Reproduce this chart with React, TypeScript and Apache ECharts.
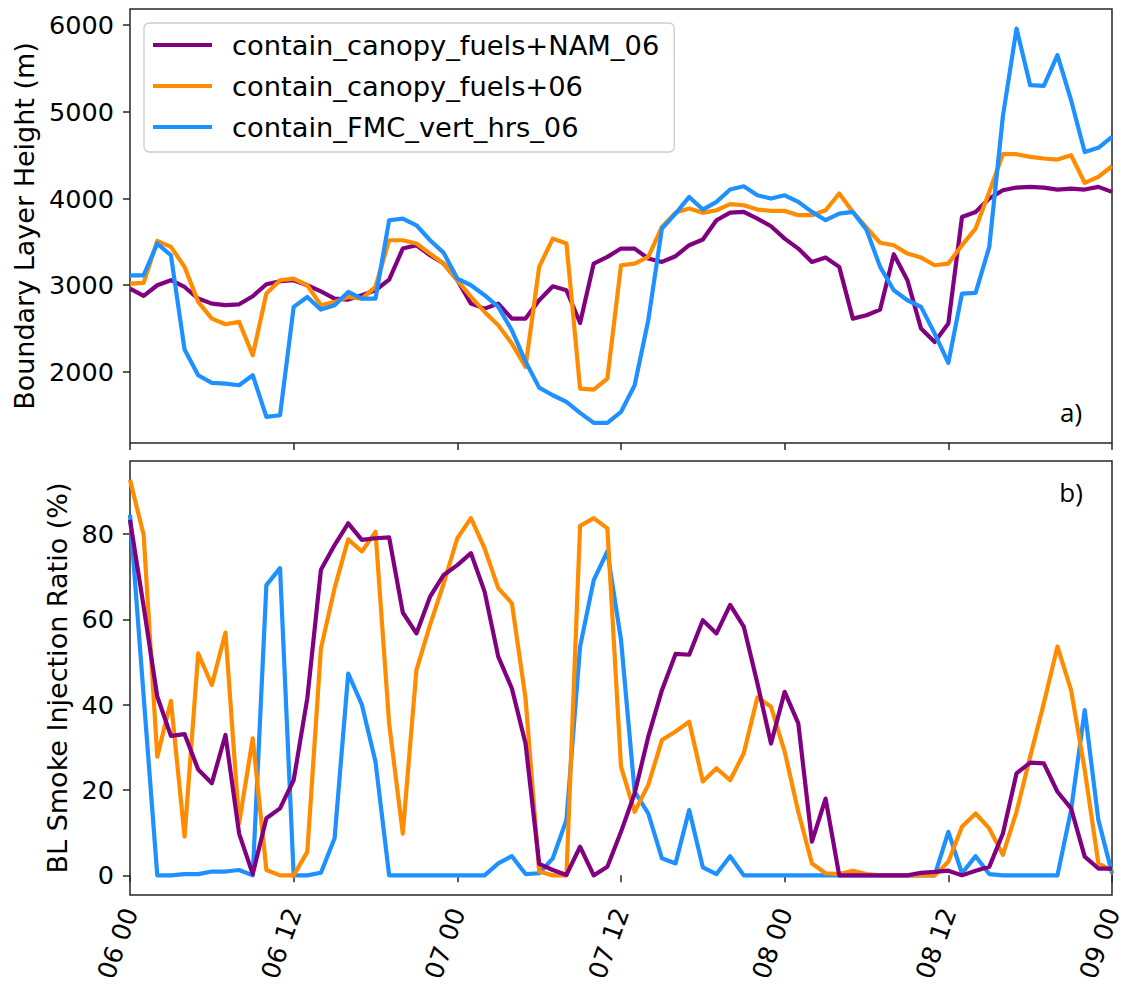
import React, { useEffect, useRef } from "react";
import * as echarts from "echarts";

// ---- Data (hourly, 06 00 -> 09 00) ----
const seriesNames = [
  "contain_canopy_fuels+NAM_06",
  "contain_canopy_fuels+06",
  "contain_FMC_vert_hrs_06",
];
const seriesColors = ["#800080", "#ff8c00", "#1e90ff"];

const xTickHours = [0, 12, 24, 36, 48, 60, 72];
const xTickLabels = ["06 00", "06 12", "07 00", "07 12", "08 00", "08 12", "09 00"];
const blhTicks = [2000, 3000, 4000, 5000, 6000];
const sirTicks = [0, 20, 40, 60, 80];

// Boundary layer height (m)
const blhNam = [
  2960, 2877, 3000, 3058, 2980, 2846, 2788, 2770, 2780, 2873,
  3011, 3046, 3058, 3000, 2930, 2846, 2835, 2885, 2942, 3065,
  3423, 3462, 3346, 3250, 3058, 2788, 2730, 2788, 2615, 2615,
  2827, 2988, 2942, 2565, 3250, 3327, 3423, 3423, 3308, 3269,
  3335, 3462, 3527, 3750, 3838, 3846, 3769, 3681, 3538, 3423,
  3269, 3319, 3212, 2615, 2654, 2719, 3358, 3058, 2500, 2346,
  2558, 3788, 3846, 4000, 4096, 4127, 4135, 4127, 4104, 4115,
  4104, 4135, 4077,
];
const blhCanopy = [
  3019, 3027, 3512, 3442, 3212, 2808, 2615, 2550, 2577, 2192,
  2904, 3058, 3077, 3000, 2770, 2808, 2865, 2846, 2981, 3519,
  3519, 3481, 3365, 3250, 3058, 2865, 2692, 2538, 2327, 2058,
  3212, 3538, 3481, 1808, 1796, 1923, 3231, 3250, 3327, 3673,
  3838, 3885, 3835, 3865, 3935, 3923, 3873, 3858, 3858, 3808,
  3808, 3865, 4058, 3846, 3665, 3490, 3462, 3365, 3319, 3231,
  3250, 3462, 3654, 4077, 4512, 4512, 4481, 4462, 4450, 4500,
  4181, 4250, 4373,
];
const blhFmc = [
  3115, 3115, 3481, 3346, 2258, 1962, 1873, 1865, 1846, 1962,
  1481, 1500, 2750, 2865, 2719, 2769, 2923, 2846, 2846, 3750,
  3769, 3692, 3519, 3373, 3077, 3000, 2885, 2750, 2480, 2120,
  1819, 1731, 1654, 1527, 1412, 1412, 1538, 1846, 2596, 3654,
  3827, 4019, 3873, 3962, 4104, 4142, 4038, 4000, 4038, 3962,
  3846, 3750, 3827, 3846, 3640, 3212, 2942, 2827, 2750, 2442,
  2104, 2904, 2911, 3442, 4950, 5962, 5308, 5300, 5654, 5135,
  4538, 4585, 4712,
];

// BL smoke injection ratio (%)
const sirNam = [
  83.3, 63, 41.9, 32.7, 33.1, 24.8, 21.6, 32.9, 9.8, 0.3,
  13.4, 15.7, 22.3, 41.5, 71.6, 77.4, 82.5, 78.6, 79, 79.2,
  61.6, 56.7, 65.3, 70.4, 72.7, 75.5, 66.5, 51.25, 43.8, 30.9,
  2.7, 1.25, 0.1, 6.7, 0, 2, 10.2, 19.2, 32.5, 43.4,
  51.9, 51.7, 59.8, 56.7, 63.4, 58.3, 45, 30.9, 43, 35.6,
  7.9, 18, 0, 0, 0, 0, 0, 0, 0.6, 0.8,
  1.1, 0, 1.1, 2, 9.8, 23.9, 26.4, 26.25, 19.6, 15.7,
  4.4, 1.6, 1.6,
];
const sirCanopy = [
  92.7, 79.8, 27.8, 40.9, 9.1, 52.0, 44.6, 56.9, 12.2, 32.1,
  1.25, 0, 0, 5.5, 53.2, 67.3, 78.75, 75.9, 80.5, 35.6,
  9.8, 48.1, 58.7, 68.4, 79, 83.7, 76.6, 67.3, 63.75, 41.5,
  0.9, 0, 0, 81.9, 83.7, 81.3, 25.5, 14.9, 21.2, 31.7,
  33.7, 36, 22, 25.1, 22.3, 28.6, 41.7, 39.5, 29, 14.9,
  2.8, 0.5, 0.3, 1.1, 0.3, 0, 0, 0, 0, 0,
  3.2, 11.4, 14.5, 11, 4.8, 14.9, 27.8, 40.3, 53.6, 43.4,
  24.7, 2.8, 1.1,
];
const sirFmc = [
  84.5, 42, 0, 0, 0.3, 0.3, 0.9, 0.9, 1.25, 0,
  68, 72, 0, 0, 0.6, 8.7, 47.3, 40, 26.6, 0,
  0, 0, 0, 0, 0, 0, 0, 2.8, 4.5, 0.3,
  0.5, 4, 13, 53.6, 69.2, 75.9, 55.2, 19.6, 14.5, 4,
  2.8, 15.3, 1.9, 0.3, 4.5, 0, 0, 0, 0, 0,
  0, 0, 0, 0, 0, 0, 0, 0, 0, 0,
  10.2, 0.5, 4.5, 0.3, 0, 0, 0, 0, 0, 15.3,
  38.75, 13, 0.5,
];

const FONT = "DejaVu Sans";
const FRAME = "#262626";

const toPairs = (vals: number[]) => vals.map((v, i) => [i, v]);

export default function App() {
  const ref = useRef<HTMLDivElement>(null);

  useEffect(() => {
    if (!ref.current) return;
    const chart = echarts.init(ref.current, null, { renderer: "svg" });

    const tickStyle = { show: true, length: 7, inside: false, lineStyle: { color: FRAME, width: 1.5 } };

    const mkLine = (name: string, idx: number, vals: number[], axis: number, z: number) => ({
      type: "line",
      name,
      xAxisIndex: axis,
      yAxisIndex: axis,
      data: toPairs(vals),
      showSymbol: false,
      symbol: "none",
      z,
      lineStyle: { color: seriesColors[idx], width: 4.2, join: "round", cap: "butt" },
      itemStyle: { color: seriesColors[idx] },
      emphasis: { disabled: true },
    });

    const plain = (v: number) => String(v);

    const option: any = {
      animation: false,
      backgroundColor: "#ffffff",
      grid: [
        { left: 130, right: 24, top: 9, height: 434, show: true, borderColor: FRAME, borderWidth: 1.5, backgroundColor: "transparent" },
        { left: 130, right: 24, top: 461, height: 434, show: true, borderColor: FRAME, borderWidth: 1.5, backgroundColor: "transparent" },
      ],
      xAxis: [
        {
          type: "value", gridIndex: 0, min: 0, max: 72,
          axisLine: { show: false },
          axisTick: { ...tickStyle, customValues: xTickHours },
          axisLabel: { show: false },
          splitLine: { show: false },
        },
        {
          type: "value", gridIndex: 1, min: 0, max: 72,
          axisLine: { show: false },
          axisTick: { ...tickStyle, customValues: xTickHours },
          axisLabel: {
            customValues: xTickHours,
            rotate: 70,
            margin: 14,
            fontSize: 25.5,
            fontFamily: FONT,
            color: "#000",
            padding: [18, 0, 0, 0],
            formatter: (v: number) => xTickLabels[xTickHours.indexOf(v)] ?? "",
          },
          splitLine: { show: false },
        },
      ],
      yAxis: [
        {
          type: "value", gridIndex: 0, min: 1180, max: 6187,
          name: "Boundary Layer Height (m)",
          nameLocation: "middle",
          nameGap: 92,
          nameTextStyle: { fontSize: 27, fontFamily: FONT, color: "#000" },
          axisLine: { show: false },
          axisTick: { ...tickStyle, customValues: blhTicks },
          axisLabel: { customValues: blhTicks, margin: 16, fontSize: 25.5, fontFamily: FONT, color: "#000", formatter: plain },
          splitLine: { show: false },
        },
        {
          type: "value", gridIndex: 1, min: -4.6, max: 97.1,
          name: "BL Smoke Injection Ratio (%)",
          nameLocation: "middle",
          nameGap: 58,
          nameTextStyle: { fontSize: 27, fontFamily: FONT, color: "#000" },
          axisLine: { show: false },
          axisTick: { ...tickStyle, customValues: sirTicks },
          axisLabel: { customValues: sirTicks, margin: 16, fontSize: 25.5, fontFamily: FONT, color: "#000", formatter: plain },
          splitLine: { show: false },
        },
      ],
      legend: {
        data: seriesNames,
        orient: "vertical",
        left: 144,
        top: 23,
        padding: [7, 15, 10, 9],
        itemGap: 11,
        itemWidth: 59,
        itemHeight: 4,
        icon: "rect",
        borderColor: "#cccccc",
        borderWidth: 1.3,
        borderRadius: 5,
        backgroundColor: "rgba(255,255,255,0.8)",
        selectedMode: false,
        textStyle: { fontSize: 27.3, fontFamily: FONT, color: "#000", lineHeight: 30, padding: [0, 0, 0, 15] },
      },
      graphic: [
        { type: "text", x: 1071, y: 412, style: { text: "a)", fontSize: 26, fontFamily: "Open Sans", fill: "#000", textAlign: "center", textVerticalAlign: "middle" } },
        { type: "text", x: 1071, y: 492, style: { text: "b)", fontSize: 26, fontFamily: "Open Sans", fill: "#000", textAlign: "center", textVerticalAlign: "middle" } },
      ],
      series: [
        mkLine(seriesNames[0], 0, blhNam, 0, 2),
        mkLine(seriesNames[1], 1, blhCanopy, 0, 3),
        mkLine(seriesNames[2], 2, blhFmc, 0, 4),
        mkLine(seriesNames[0], 0, sirNam, 1, 4),
        mkLine(seriesNames[1], 1, sirCanopy, 1, 3),
        mkLine(seriesNames[2], 2, sirFmc, 1, 2),
      ],
    };

    chart.setOption(option);
    return () => chart.dispose();
  }, []);

  return (
    <div
      ref={ref}
      style={{ position: "fixed", left: 0, top: 0, width: 1136, height: 992, background: "#fff" }}
    />
  );
}
